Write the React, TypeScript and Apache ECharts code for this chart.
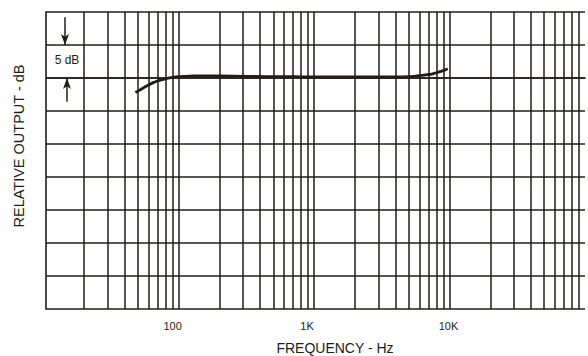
import React, { useEffect, useRef } from 'react';
import * as echarts from 'echarts';

// Frequency response curve (Hz, relative dB)
const freqHz = [48, 52, 56, 60, 65, 70, 76, 82, 90, 100, 115, 130, 160, 200, 300, 500, 700, 1000, 1500, 2000, 3000, 4000, 5000, 5600, 6200, 6800, 7400, 8000, 8600, 9200, 9700];
const outputDb = [-2.2, -1.8, -1.4, -1.05, -0.7, -0.45, -0.25, -0.05, 0.1, 0.2, 0.25, 0.3, 0.3, 0.3, 0.25, 0.2, 0.2, 0.15, 0.15, 0.15, 0.15, 0.15, 0.2, 0.3, 0.4, 0.5, 0.6, 0.8, 1.0, 1.2, 1.4];

// Log chart-paper vertical rulings
const gridFreqs = [
  20, 30, 40, 50, 60, 70, 80, 90,
  100, 200, 300, 400, 500, 600, 700, 800, 900,
  1000, 2000, 3000, 4000, 5000, 6000, 7000, 8000, 9000,
  10000, 20000, 30000, 40000, 50000, 60000, 70000, 80000, 90000,
];
const tickValues = [100, 1000, 10000];
const tickLabels = ['100', '1K', '10K'];

const xMin = 10.5;
const xMax = 100000;
const yMin = -35;
const yMax = 10;
const yStep = 5;

// 5 dB scale indicator arrows
const arrowDown = [[14.5, 9.2], [14.5, 5]];
const arrowUp = [[15, -3.6], [15, 0]];

export default function App() {
  const ref = useRef<HTMLDivElement>(null);
  useEffect(() => {
    const chart = echarts.init(ref.current!, null, { renderer: 'svg' });
    const ink = '#221c17';
    const labelFont = { fontFamily: 'Liberation Sans', fontSize: 11, color: ink };
    const richKeys = ['a', 'b', 'c'];
    chart.setOption({
      animation: false,
      backgroundColor: '#ffffff',
      grid: { left: 46, top: 12, width: 545, height: 297 },
      xAxis: {
        type: 'log',
        logBase: 10,
        min: xMin,
        max: xMax,
        axisLine: { show: true, lineStyle: { color: ink, width: 1.6 } },
        axisTick: { show: false },
        splitLine: { show: false },
        axisLabel: {
          margin: 11,
          ...labelFont,
          formatter: (v: number) => {
            const r = Math.round(v);
            const i = tickValues.indexOf(r);
            return i >= 0 ? `{${richKeys[i]}|${tickLabels[i]}}` : '';
          },
          rich: {
            a: { ...labelFont, padding: [0, 12, 0, 0] },
            b: { ...labelFont, padding: [0, 14, 0, 0] },
            c: { ...labelFont, padding: [0, 2, 0, 0] },
          },
        },
      },
      yAxis: {
        type: 'value',
        min: yMin,
        max: yMax,
        interval: yStep,
        axisLine: { show: true, lineStyle: { color: ink, width: 1.6 } },
        axisTick: { show: false },
        axisLabel: { show: false },
        splitLine: { show: true, lineStyle: { color: ink, width: 1.5 } },
      },
      series: [
        {
          type: 'line',
          data: freqHz.map((f, i) => [f, outputDb[i]]),
          smooth: 0.4,
          symbol: 'none',
          lineStyle: { color: ink, width: 2.8 },
          z: 5,
          markLine: {
            silent: true,
            symbol: ['none', 'none'],
            label: { show: false },
            lineStyle: { color: ink, width: 1.5, type: 'solid' },
            emphasis: { disabled: true },
            data: [
              ...gridFreqs.map((f) => ({ xAxis: f })),
              [
                { coord: arrowDown[0], symbol: 'none' },
                { coord: arrowDown[1], symbol: 'arrow', symbolSize: [6, 11] },
              ],
              [
                { coord: arrowUp[0], symbol: 'none' },
                { coord: arrowUp[1], symbol: 'arrow', symbolSize: [6, 11] },
              ],
            ],
          },
        },
      ],
      graphic: [
        {
          type: 'text',
          x: 67,
          y: 60,
          silent: true,
          style: { text: '5 dB', font: '12px "Liberation Sans"', fill: ink, textAlign: 'center', textVerticalAlign: 'middle' },
        },
        {
          type: 'text',
          x: 335,
          y: 348,
          silent: true,
          style: { text: 'FREQUENCY - Hz', font: '14px "Liberation Sans"', fill: ink, textAlign: 'center', textVerticalAlign: 'middle' },
        },
        {
          type: 'text',
          x: 19,
          y: 146,
          rotation: Math.PI / 2,
          silent: true,
          style: { text: 'RELATIVE OUTPUT - dB', font: '14.5px "Liberation Sans"', fill: ink, textAlign: 'center', textVerticalAlign: 'middle' },
        },
      ],
    });
    return () => chart.dispose();
  }, []);
  return (
    <div
      ref={ref}
      style={{ position: 'fixed', left: 0, top: 0, width: 588, height: 356, background: '#fff' }}
    />
  );
}
